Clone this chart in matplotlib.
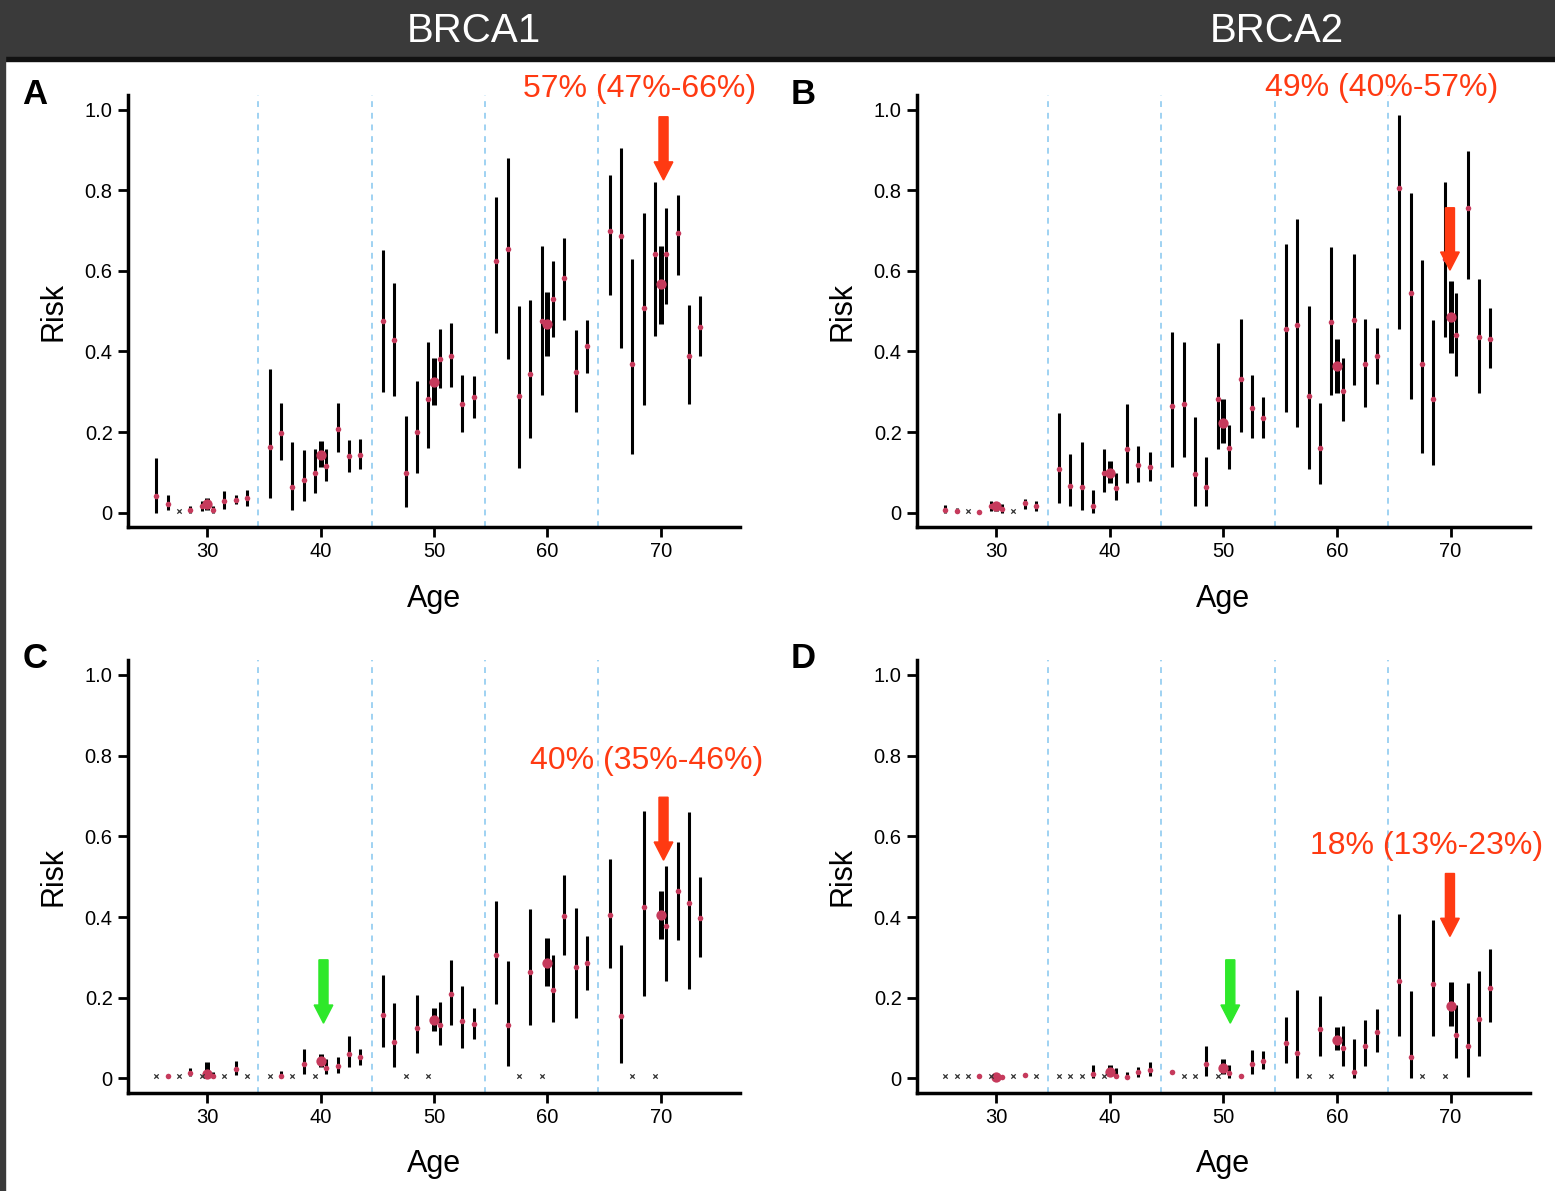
import numpy as np
import matplotlib
matplotlib.use('Agg')
import matplotlib.pyplot as plt
from matplotlib.patches import Rectangle

plt.rcParams['font.family'] = ['Liberation Sans', 'DejaVu Sans']

nan = np.nan

# ages of the single-year estimates (small dots) and decade estimates (big dots)
ages = [25.5, 26.5, 27.5, 28.5, 29.5, 30.5, 31.5, 32.5, 33.5,
        35.5, 36.5, 37.5, 38.5, 39.5, 40.5, 41.5, 42.5, 43.5,
        45.5, 46.5, 47.5, 48.5, 49.5, 50.5, 51.5, 52.5, 53.5,
        55.5, 56.5, 57.5, 58.5, 59.5, 60.5, 61.5, 62.5, 63.5,
        65.5, 66.5, 67.5, 68.5, 69.5, 70.5, 71.5, 72.5, 73.5]
decade_ages = [30, 40, 50, 60, 70]
dividers = [34.5, 44.5, 54.5, 64.5]

# panel A  (BRCA1, breast)  -- nan = no estimate (drawn as x)
a_est = [0.040, 0.022, nan, 0.007, 0.016, 0.007, 0.028, 0.032, 0.035,
         0.162, 0.198, 0.064, 0.082, 0.097, 0.115, 0.208, 0.140, 0.142,
         0.475, 0.428, 0.097, 0.200, 0.282, 0.381, 0.390, 0.269, 0.286,
         0.624, 0.655, 0.290, 0.345, 0.475, 0.530, 0.582, 0.348, 0.413,
         0.700, 0.687, 0.370, 0.508, 0.642, 0.642, 0.694, 0.390, 0.462]
a_lo = [0.0, 0.007, nan, 0.0, 0.004, 0.0, 0.009, 0.020, 0.017,
        0.035, 0.130, 0.006, 0.028, 0.049, 0.078, 0.150, 0.100, 0.107,
        0.299, 0.290, 0.014, 0.098, 0.160, 0.309, 0.312, 0.199, 0.235,
        0.447, 0.381, 0.111, 0.185, 0.293, 0.436, 0.479, 0.249, 0.347,
        0.541, 0.409, 0.146, 0.268, 0.438, 0.519, 0.591, 0.270, 0.388]
a_hi = [0.136, 0.043, nan, 0.017, 0.028, 0.017, 0.053, 0.043, 0.055,
        0.357, 0.272, 0.175, 0.156, 0.159, 0.159, 0.272, 0.181, 0.183,
        0.653, 0.571, 0.241, 0.326, 0.423, 0.456, 0.471, 0.342, 0.338,
        0.783, 0.880, 0.512, 0.527, 0.661, 0.624, 0.682, 0.454, 0.479,
        0.839, 0.905, 0.630, 0.745, 0.821, 0.756, 0.789, 0.516, 0.537]
a_dec_est = [0.022, 0.142, 0.323, 0.469, 0.567]
a_dec_lo = [0.006, 0.112, 0.266, 0.390, 0.468]
a_dec_hi = [0.035, 0.177, 0.385, 0.549, 0.663]

# panel B  (BRCA2, breast)
b_est = [0.006, 0.003, nan, 0.002, 0.016, 0.008, nan, 0.023, 0.016,
         0.109, 0.066, 0.064, 0.016, 0.098, 0.062, 0.159, 0.118, 0.113,
         0.265, 0.269, 0.095, 0.064, 0.283, 0.160, 0.332, 0.260, 0.234,
         0.455, 0.465, 0.289, 0.160, 0.474, 0.303, 0.478, 0.368, 0.389,
         0.805, 0.546, 0.370, 0.281, 0.630, 0.441, 0.757, 0.436, 0.432]
b_lo = [0.0, 0.0, nan, 0.002, 0.004, 0.0, nan, 0.009, 0.004,
        0.023, 0.015, 0.006, 0.0, 0.050, 0.031, 0.073, 0.077, 0.078,
        0.114, 0.138, 0.015, 0.017, 0.159, 0.109, 0.200, 0.186, 0.186,
        0.250, 0.212, 0.109, 0.072, 0.292, 0.227, 0.318, 0.263, 0.320,
        0.455, 0.281, 0.147, 0.118, 0.437, 0.339, 0.581, 0.296, 0.358]
b_hi = [0.019, 0.012, nan, 0.002, 0.029, 0.020, nan, 0.033, 0.029,
        0.246, 0.145, 0.174, 0.055, 0.157, 0.098, 0.270, 0.165, 0.151,
        0.449, 0.423, 0.238, 0.139, 0.422, 0.217, 0.480, 0.341, 0.287,
        0.667, 0.728, 0.513, 0.273, 0.659, 0.383, 0.641, 0.481, 0.459,
        0.988, 0.794, 0.627, 0.478, 0.820, 0.546, 0.897, 0.579, 0.507]
b_dec_est = [0.016, 0.099, 0.223, 0.364, 0.485]
b_dec_lo = [0.004, 0.074, 0.172, 0.298, 0.397]
b_dec_hi = [0.026, 0.128, 0.283, 0.432, 0.575]

# panel C  (BRCA1, ovarian)
c_est = [nan, 0.005, nan, 0.014, nan, 0.006, nan, 0.024, nan,
         nan, 0.006, nan, 0.035, nan, 0.025, 0.031, 0.060, 0.052,
         0.158, 0.091, nan, 0.125, nan, 0.133, 0.209, 0.143, 0.135,
         0.306, 0.132, nan, 0.263, nan, 0.220, 0.403, 0.277, 0.286,
         0.406, 0.155, nan, 0.425, nan, 0.379, 0.464, 0.435, 0.398]
c_lo = [nan, 0.005, nan, 0.005, nan, 0.0, nan, 0.009, nan,
        nan, 0.0, nan, 0.010, nan, 0.010, 0.013, 0.029, 0.033,
        0.078, 0.029, nan, 0.062, nan, 0.083, 0.133, 0.075, 0.099,
        0.185, 0.031, nan, 0.132, nan, 0.141, 0.305, 0.151, 0.220,
        0.273, 0.039, nan, 0.205, nan, 0.241, 0.342, 0.222, 0.301]
c_hi = [nan, 0.005, nan, 0.027, nan, 0.015, nan, 0.044, nan,
        nan, 0.018, nan, 0.074, nan, 0.048, 0.053, 0.104, 0.074,
        0.257, 0.186, nan, 0.207, nan, 0.190, 0.294, 0.228, 0.175,
        0.440, 0.290, nan, 0.419, nan, 0.307, 0.504, 0.422, 0.353,
        0.544, 0.330, nan, 0.664, nan, 0.526, 0.585, 0.660, 0.500]
c_dec_est = [0.010, 0.044, 0.145, 0.286, 0.404]
c_dec_lo = [0.002, 0.029, 0.118, 0.230, 0.346]
c_dec_hi = [0.041, 0.060, 0.174, 0.348, 0.464]

# panel D  (BRCA2, ovarian)
d_est = [nan, nan, nan, 0.006, nan, 0.003, nan, 0.008, nan,
         nan, nan, nan, 0.010, nan, 0.006, 0.004, 0.015, 0.022,
         0.015, nan, nan, 0.035, nan, 0.013, 0.005, 0.035, 0.043,
         0.089, 0.064, nan, 0.122, nan, 0.075, 0.017, 0.081, 0.114,
         0.241, 0.052, nan, 0.234, nan, 0.108, 0.081, 0.147, 0.224]
d_lo = [nan, nan, nan, 0.006, nan, 0.003, nan, 0.008, nan,
        nan, nan, nan, 0.0, nan, 0.0, 0.0, 0.003, 0.005,
        0.015, nan, nan, 0.005, nan, 0.0, 0.0, 0.010, 0.023,
        0.039, 0.002, nan, 0.056, nan, 0.031, 0.0, 0.031, 0.066,
        0.106, 0.0, nan, 0.106, nan, 0.050, 0.004, 0.056, 0.141]
d_hi = [nan, nan, nan, 0.006, nan, 0.003, nan, 0.008, nan,
        nan, nan, nan, 0.034, nan, 0.027, 0.017, 0.029, 0.042,
        0.015, nan, nan, 0.081, nan, 0.034, 0.012, 0.070, 0.067,
        0.153, 0.220, nan, 0.205, nan, 0.129, 0.097, 0.146, 0.172,
        0.408, 0.216, nan, 0.393, nan, 0.183, 0.237, 0.267, 0.320]
d_dec_est = [0.003, 0.017, 0.025, 0.096, 0.179]
d_dec_lo = [0.0, 0.005, 0.010, 0.071, 0.129]
d_dec_hi = [0.012, 0.034, 0.048, 0.128, 0.240]

labels = ['57% (47%-66%)', '49% (40%-57%)', '40% (35%-46%)', '18% (13%-23%)']

RED = '#ff3a12'
GREEN = '#2ee82a'
DOT = '#c63a5c'


def draw_panel(ax, est, lo, hi, dest, dlo, dhi):
    est = np.array(est); lo = np.array(lo); hi = np.array(hi)
    x = np.array(ages)
    ok = ~np.isnan(est)
    for d in dividers:
        ax.axvline(d, color='#9fd2f2', lw=1.4, ls=(0, (3, 3)), zorder=1)
    ax.vlines(x[ok], lo[ok], hi[ok], color='black', lw=2.2, zorder=2)
    ax.vlines(decade_ages, dlo, dhi, color='black', lw=3.6, zorder=2)
    ax.scatter(x[ok], est[ok], s=16, color=DOT, zorder=3, linewidths=0)
    ax.scatter(decade_ages, dest, s=55, color=DOT, zorder=3, linewidths=0)
    ax.scatter(x[~ok], np.full((~ok).sum(), 0.005), marker='x', s=10,
               color='#333333', linewidths=0.9, zorder=3)

    ax.set_xlim(23.0, 77.0)
    ax.set_ylim(-0.036, 1.037)
    ax.set_xticks([30, 40, 50, 60, 70])
    ax.set_yticks([0, 0.2, 0.4, 0.6, 0.8, 1.0])
    ax.set_yticklabels(['0', '0.2', '0.4', '0.6', '0.8', '1.0'])
    ax.tick_params(direction='out', length=7, width=2, labelsize=14.5, pad=4)
    for s in ['top', 'right']:
        ax.spines[s].set_visible(False)
    for s in ['left', 'bottom']:
        ax.spines[s].set_linewidth(2.5)
    ax.set_xlabel('Age', fontsize=22, labelpad=16)
    ax.set_ylabel('Risk', fontsize=22, labelpad=12)


def down_arrow(ax, x, top, tip, color):
    ax.arrow(x, top, 0, tip - top, width=0.8, head_width=1.65,
             head_length=0.045, length_includes_head=True, color=color,
             zorder=5, clip_on=False)


fig = plt.figure(figsize=(15.55, 11.91), dpi=100)

# dark header band and left edge
fig.patches.append(Rectangle((0, 0.9513), 1, 0.0487, transform=fig.transFigure,
                             color='#3a3a3a', zorder=0))
fig.patches.append(Rectangle((0, 0.949), 1, 0.0028, transform=fig.transFigure,
                             color='#111111', zorder=0))
fig.patches.append(Rectangle((0, 0), 0.0035, 1, transform=fig.transFigure,
                             color='#3a3a3a', zorder=0))
fig.text(0.305, 0.974, 'BRCA1', color='white', fontsize=29, ha='center', va='center')
fig.text(0.821, 0.974, 'BRCA2', color='white', fontsize=29, ha='center', va='center')

axA = fig.add_axes([0.0823, 0.5575, 0.3936, 0.3627])
axB = fig.add_axes([0.5897, 0.5575, 0.3942, 0.3627])
axC = fig.add_axes([0.0823, 0.0823, 0.3936, 0.3635])
axD = fig.add_axes([0.5897, 0.0823, 0.3942, 0.3635])

draw_panel(axA, a_est, a_lo, a_hi, a_dec_est, a_dec_lo, a_dec_hi)
draw_panel(axB, b_est, b_lo, b_hi, b_dec_est, b_dec_lo, b_dec_hi)
draw_panel(axC, c_est, c_lo, c_hi, c_dec_est, c_dec_lo, c_dec_hi)
draw_panel(axD, d_est, d_lo, d_hi, d_dec_est, d_dec_lo, d_dec_hi)

# panel letters
for lx, ly, letter in [(35, 94, 'A'), (803, 94, 'B'), (35, 659, 'C'), (803, 659, 'D')]:
    fig.text(lx / 1555, 1 - ly / 1191, letter, fontsize=25, fontweight='bold',
             ha='center', va='center')

down_arrow(axA, 70.25, 0.983, 0.826, RED)
down_arrow(axB, 69.95, 0.757, 0.602, RED)
down_arrow(axC, 70.25, 0.697, 0.541, RED)
down_arrow(axC, 40.25, 0.294, 0.137, GREEN)
down_arrow(axD, 69.95, 0.508, 0.352, RED)
down_arrow(axD, 50.6, 0.294, 0.137, GREEN)

axA.text(68.15, 1.053, labels[0], color=RED, fontsize=23, ha='center', va='center', clip_on=False)
axB.text(63.9, 1.055, labels[1], color=RED, fontsize=23, ha='center', va='center', clip_on=False)
axC.text(68.8, 0.788, labels[2], color=RED, fontsize=23, ha='center', va='center')
axD.text(67.9, 0.577, labels[3], color=RED, fontsize=23, ha='center', va='center', clip_on=False)

fig.savefig('out.png', dpi=100)
